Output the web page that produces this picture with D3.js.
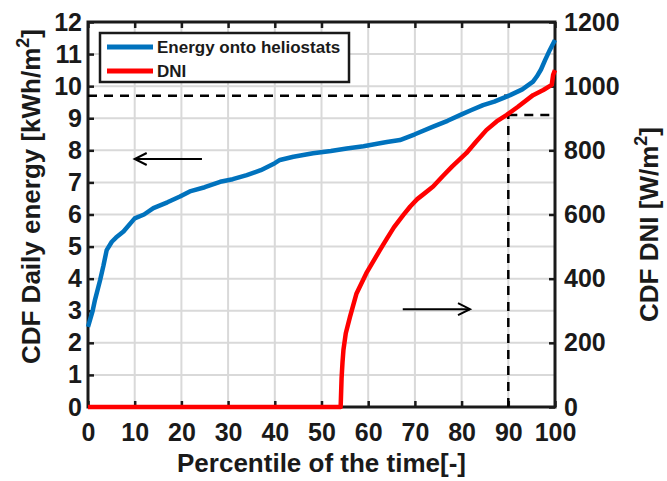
<!DOCTYPE html>
<html><head><meta charset="utf-8">
<script src="https://cdn.jsdelivr.net/npm/d3@7"></script>
<style>
body{margin:0;background:#fff;}
text{font-family:"Liberation Sans",Arial,sans-serif;font-weight:bold;fill:#1a1a1a;}
</style></head>
<body><svg id="c" width="667" height="481"></svg>
<script>
// percentile [%] and energy [kWh/m2]
const energyX = [0,1,1.5,2.6,3.3,4,5.1,6,7.6,10,12,14,17,19.7,21.8,25,28.3,31,34,37,40,41.1,44,48.2,52,55.4,59,62.5,64,66.8,70,73.9,77,80,82,84.6,87,90.4,93,95.3,96.1,97,97.9,98.9,99.5,100];
const energyY = [2.5,3.0,3.34,3.96,4.4,4.89,5.15,5.28,5.47,5.88,6.0,6.2,6.38,6.56,6.72,6.85,7.02,7.1,7.23,7.38,7.6,7.7,7.8,7.91,7.98,8.06,8.13,8.22,8.26,8.32,8.5,8.74,8.92,9.12,9.25,9.41,9.52,9.72,9.9,10.14,10.3,10.52,10.82,11.13,11.3,11.44];
// percentile [%] and DNI [W/m2]
const dniX = [0,54.1,54.3,54.5,54.7,55.2,56.1,57.5,59.6,62.5,64,65.5,67.5,69,70.5,72,73.9,76,78,81,83,85.3,87.5,89.6,92,95.3,97.5,99.3,99.6,100];
const dniY = [0,0,90,140,178,230,281,354,417,489,525,560,598,625,648,665,687,720,750,791,825,863,890,910,935,972,988,1004,1035,1050];
const xTicks = [0,10,20,30,40,50,60,70,80,90,100];
const yLeftTicks = [0,1,2,3,4,5,6,7,8,9,10,11,12];
const yRightTicks = [0,200,400,600,800,1000,1200];
const seriesNames = ["Energy onto heliostats","DNI"];
// reference dashed lines: energy 9.7 at 90th pct, DNI 910 at 90th pct
const refPct = 90, refEnergy = 9.7, refDni = 910;
// arrows [x0,x1,y] in data units
const arrowLeft = [24.4,10,7.73];   // left axis
const arrowRight = [67.4,81.8,305]; // right axis

const svg = d3.select("#c");
const L=88,R=555,T=22,B=407;
const x = d3.scaleLinear().domain([0,100]).range([L,R]);
const yL = d3.scaleLinear().domain([0,12]).range([B,T]);
const yR = d3.scaleLinear().domain([0,1200]).range([B,T]);
const grid = "#d9d9d9";

// grid
svg.append("g").selectAll("line").data(xTicks).join("line")
  .attr("x1",d=>x(d)).attr("x2",d=>x(d)).attr("y1",T).attr("y2",B)
  .attr("stroke",grid).attr("stroke-width",2);
svg.append("g").selectAll("line").data(yLeftTicks).join("line")
  .attr("y1",d=>yL(d)).attr("y2",d=>yL(d)).attr("x1",L).attr("x2",R)
  .attr("stroke",grid).attr("stroke-width",2);

// axes
const tk=6;
const axB = d3.axisBottom(x).tickValues(xTicks).tickSizeInner(-tk).tickSizeOuter(0).tickPadding(16);
const axT = d3.axisTop(x).tickValues(xTicks).tickSizeInner(-tk).tickSizeOuter(0).tickFormat("");
const axL = d3.axisLeft(yL).tickValues(yLeftTicks).tickSizeInner(-tk).tickSizeOuter(0).tickPadding(6);
const axR = d3.axisRight(yR).tickValues(yRightTicks).tickSizeInner(-tk).tickSizeOuter(0).tickPadding(9).tickFormat(d3.format("d"));
function styleAx(g){
  g.select(".domain").remove();
  g.selectAll(".tick line").attr("stroke","#1a1a1a").attr("stroke-width",2.5);
  g.selectAll(".tick text").style("font-size","25px").style("font-family","Liberation Sans, Arial, sans-serif").style("font-weight","bold").attr("fill","#1a1a1a");
}
svg.append("g").attr("transform",`translate(0,${B})`).call(axB).call(styleAx);
svg.append("g").attr("transform",`translate(0,${T})`).call(axT).call(styleAx);
svg.append("g").attr("transform",`translate(${L},0)`).call(axL).call(styleAx);
svg.append("g").attr("transform",`translate(${R},0)`).call(axR).call(styleAx);

// frame
svg.append("rect").attr("x",L).attr("y",T).attr("width",R-L).attr("height",B-T)
  .attr("fill","none").attr("stroke","#1a1a1a").attr("stroke-width",3);

// dashed reference lines
const dash = "9,7";
const dl = svg.append("g").attr("stroke","#000").attr("stroke-width",2.5).attr("stroke-dasharray",dash).attr("fill","none");
dl.append("line").attr("x1",x(0)).attr("x2",x(refPct)).attr("y1",yL(refEnergy)).attr("y2",yL(refEnergy));
dl.append("line").attr("x1",x(refPct)).attr("x2",x(refPct)).attr("y1",yR(0)).attr("y2",yR(refDni));
dl.append("line").attr("x1",x(refPct)).attr("x2",x(100)).attr("y1",yR(refDni)).attr("y2",yR(refDni));

// series
const lineE = d3.line().x((d,i)=>x(energyX[i])).y(d=>yL(d));
const lineD = d3.line().x((d,i)=>x(dniX[i])).y(d=>yR(d));
svg.append("path").attr("d",lineD(dniY)).attr("fill","none").attr("stroke","#ff0000").attr("stroke-width",4.5).attr("stroke-linejoin","round");
svg.append("path").attr("d",lineE(energyY)).attr("fill","none").attr("stroke","#0072bd").attr("stroke-width",4.5).attr("stroke-linejoin","round");

// arrows
function arrow(x0,x1,yy){
  const g=svg.append("g").attr("stroke","#000").attr("stroke-width",2).attr("fill","none");
  g.append("line").attr("x1",x0).attr("x2",x1).attr("y1",yy).attr("y2",yy);
  const s = x1<x0?1:-1;
  g.append("path").attr("d",`M${x1+s*12},${yy-6}L${x1},${yy}L${x1+s*12},${yy+6}`);
}
arrow(x(arrowLeft[0]),x(arrowLeft[1]),yL(arrowLeft[2]));
arrow(x(arrowRight[0]),x(arrowRight[1]),yR(arrowRight[2]));

// legend
const lg = svg.append("g");
lg.append("rect").attr("x",100).attr("y",33).attr("width",249).attr("height",49)
  .attr("fill","#fff").attr("stroke","#1a1a1a").attr("stroke-width",2.5);
const cols=["#0072bd","#ff0000"];
seriesNames.forEach((n,i)=>{
  const yy=47+i*24;
  lg.append("line").attr("x1",107).attr("x2",153).attr("y1",yy).attr("y2",yy).attr("stroke",cols[i]).attr("stroke-width",5);
  lg.append("text").attr("x",157).attr("y",yy+6).style("font-size","17px").text(n);
});

// axis titles
svg.append("text").attr("x",(L+R)/2).attr("y",472).attr("text-anchor","middle").style("font-size","26px").text("Percentile of the time[-]");
const lt = svg.append("text").attr("transform",`translate(40,${(T+B)/2-18}) rotate(-90)`).attr("text-anchor","middle").style("font-size","26px");
lt.append("tspan").text("CDF Daily energy [kWh/m");
lt.append("tspan").attr("dy",-11).style("font-size","18px").text("2");
lt.append("tspan").attr("dy",11).text("]");
const rt = svg.append("text").attr("transform",`translate(658,${(T+B)/2+10}) rotate(-90)`).attr("text-anchor","middle").style("font-size","26px");
rt.append("tspan").text("CDF DNI [W/m");
rt.append("tspan").attr("dy",-11).style("font-size","18px").text("2");
rt.append("tspan").attr("dy",11).text("]");
</script></body></html>
